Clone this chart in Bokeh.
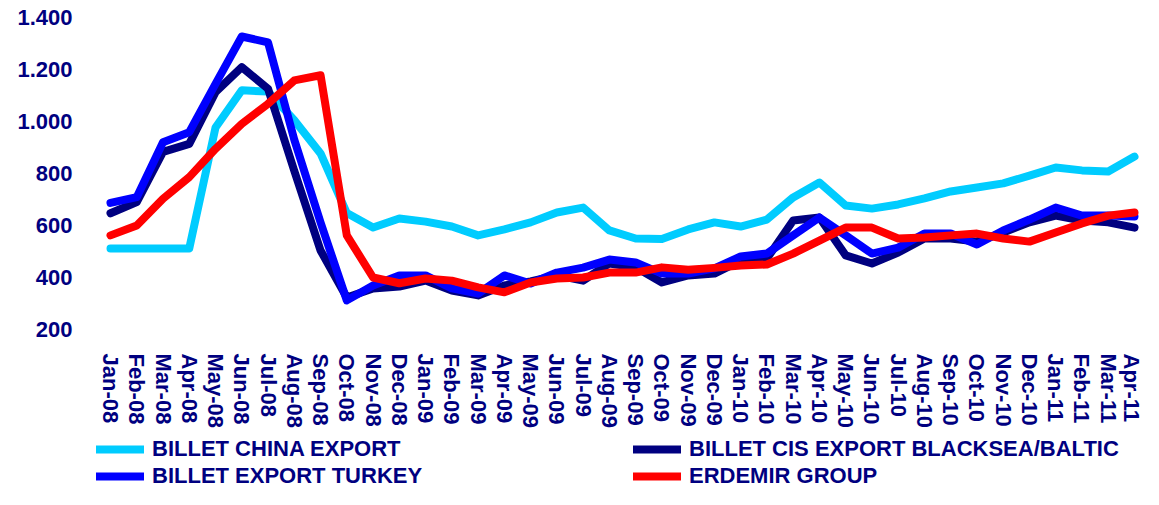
from bokeh.plotting import figure
from bokeh.models import Range1d, FixedTicker, Legend, LegendItem
from bokeh.layouts import column
from bokeh.embed import file_html
from bokeh.resources import INLINE

months = ["Jan-08", "Feb-08", "Mar-08", "Apr-08", "May-08", "Jun-08", "Jul-08", "Aug-08",
          "Sep-08", "Oct-08", "Nov-08", "Dec-08", "Jan-09", "Feb-09", "Mar-09", "Apr-09",
          "May-09", "Jun-09", "Jul-09", "Aug-09", "Sep-09", "Oct-09", "Nov-09", "Dec-09",
          "Jan-10", "Feb-10", "Mar-10", "Apr-10", "May-10", "Jun-10", "Jul-10", "Aug-10",
          "Sep-10", "Oct-10", "Nov-10", "Dec-10", "Jan-11", "Feb-11", "Mar-11", "Apr-11"]

china = [512, 512, 512, 512, 977, 1120, 1115, 1005, 877, 648, 592, 627,
         615, 596, 562, 585, 612, 650, 669, 581, 550, 548, 585, 612,
         596, 623, 708, 765, 677, 665, 681, 704, 731, 746, 762, 792,
         823, 812, 808, 865]

cis = [647, 690, 883, 914, 1113, 1209, 1126, 810, 504, 323, 358, 365,
       388, 350, 331, 369, 385, 408, 388, 454, 439, 381, 408, 415,
       465, 473, 619, 631, 485, 454, 496, 550, 550, 538, 573, 612,
       638, 619, 612, 592]

turkey = [687, 709, 920, 959, 1145, 1327, 1304, 930, 612, 312, 369, 408,
          408, 358, 338, 408, 377, 419, 438, 469, 458, 415, 415, 435,
          481, 492, 562, 631, 562, 492, 515, 569, 569, 527, 581, 623,
          669, 638, 638, 635]

erdemir = [562, 600, 703, 786, 895, 991, 1068, 1158, 1178, 562, 400, 378,
           396, 388, 362, 343, 381, 396, 400, 419, 419, 439, 430, 437,
           446, 450, 492, 542, 592, 592, 550, 554, 562, 569, 550, 538,
           573, 608, 638, 650]

y_ticks = [200, 400, 600, 800, 1000, 1200, 1400]
y_tick_labels = ["200", "400", "600", "800", "1.000", "1.200", "1.400"]

series_names = ["BILLET CHINA EXPORT", "BILLET CIS EXPORT BLACKSEA/BALTIC",
                "BILLET EXPORT TURKEY", "ERDEMIR GROUP"]
series_colors = ["#00CCFF", "#000080", "#0000FF", "#FF0000"]
series_values = [china, cis, turkey, erdemir]

NAVY = "#000080"
FONT = "Liberation Sans"

xs = list(range(len(months)))

# ---- main chart ----
p = figure(width=1143, height=436, output_backend="svg", toolbar_location=None,
           x_range=Range1d(-1.1426, 39.343), y_range=Range1d(200, 1400),
           min_border_left=80, min_border_right=0, min_border_top=17, min_border_bottom=107)
p.outline_line_color = None
p.xgrid.visible = False
p.ygrid.visible = False
p.background_fill_color = "white"
p.border_fill_color = "white"

for col, vals in zip(series_colors, series_values):
    p.line(xs, vals, line_color=col, line_width=8, line_join="round", line_cap="round")

yax = p.yaxis[0]
yax.ticker = FixedTicker(ticks=y_ticks)
yax.major_label_overrides = {t: l for t, l in zip(y_ticks, y_tick_labels)}
yax.axis_line_color = None
yax.major_tick_line_color = None
yax.minor_tick_line_color = None
yax.major_tick_out = 0
yax.major_tick_in = 0
yax.major_label_standoff = 8
yax.major_label_text_font = FONT
yax.major_label_text_font_style = "bold"
yax.major_label_text_font_size = "22px"
yax.major_label_text_color = NAVY

xax = p.xaxis[0]
xax.ticker = FixedTicker(ticks=xs)
xax.major_label_overrides = {i: m for i, m in zip(xs, months)}
xax.major_label_orientation = "vertical"
xax.axis_line_color = None
xax.major_tick_line_color = None
xax.minor_tick_line_color = None
xax.major_tick_out = 0
xax.major_tick_in = 0
xax.major_label_standoff = 24
xax.major_label_text_font = FONT
xax.major_label_text_font_style = "bold"
xax.major_label_text_font_size = "22px"
xax.major_label_text_color = NAVY

# ---- legend strip (series drawn out of view; only the legend shows) ----
p2 = figure(width=1143, height=53, output_backend="svg", toolbar_location=None,
            x_axis_location=None, y_axis_location=None,
            x_range=Range1d(-1.1426, 39.343), y_range=Range1d(-20, -10),
            min_border_left=80, min_border_right=0, min_border_top=0, min_border_bottom=0)
p2.outline_line_color = None
p2.xgrid.visible = False
p2.ygrid.visible = False
p2.background_fill_color = "white"
p2.border_fill_color = "white"

items = []
for name, col, vals in zip(series_names, series_colors, series_values):
    r = p2.line(xs, vals, line_color=col, line_width=8, line_cap="round")
    items.append(LegendItem(label=name, renderers=[r]))

legend = Legend(items=items, location=(16, 0), orientation="horizontal", ncols=2,
                glyph_width=48, glyph_height=20, label_height=20, label_width=480,
                label_standoff=8, spacing=1, padding=0, margin=0,
                label_text_font=FONT, label_text_font_style="bold",
                label_text_font_size="22px", label_text_color=NAVY,
                background_fill_color=None, border_line_color=None)
p2.add_layout(legend, "center")

layout = column(p, p2, spacing=0)
open("out.html", "w").write(file_html(layout, INLINE))
